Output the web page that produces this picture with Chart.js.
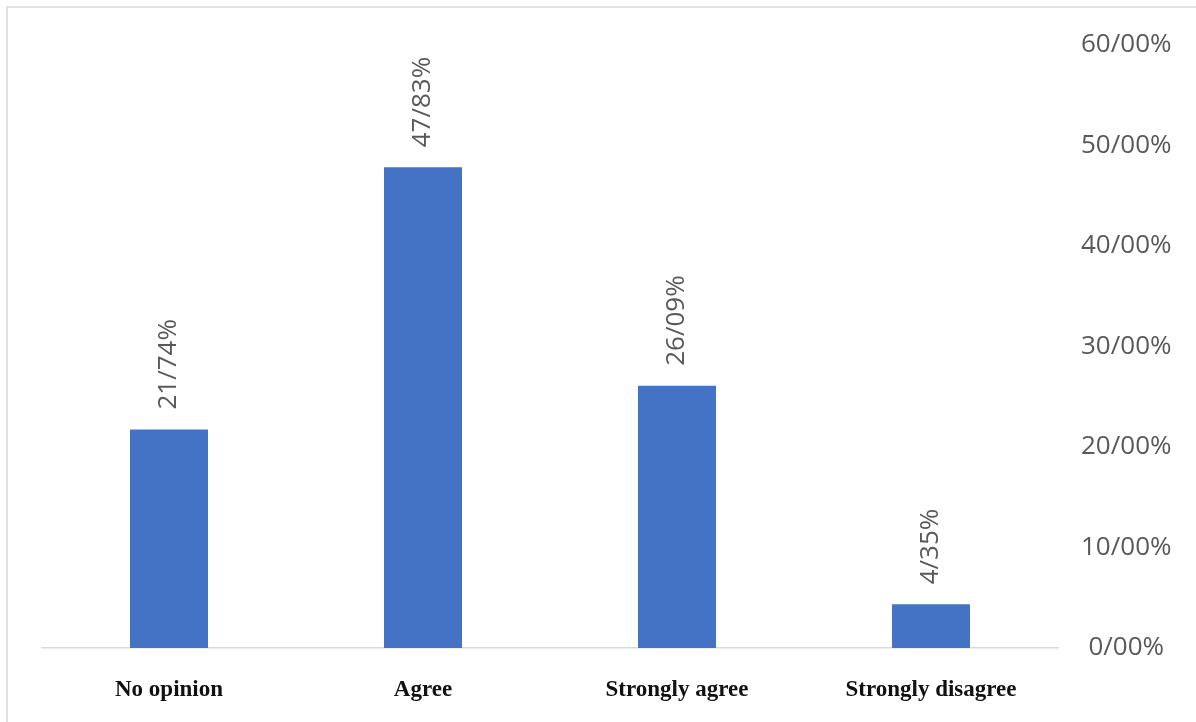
<!DOCTYPE html>
<html>
<head>
<meta charset="utf-8">
<title>Survey responses</title>
<script src="https://cdn.jsdelivr.net/npm/chart.js@4"></script>
<style>
  html, body { margin: 0; padding: 0; background: #fff; }
  #wrap { position: relative; width: 1196px; height: 722px; overflow: hidden; }
  #frame {
    position: absolute; left: 6px; top: 6px; width: 1300px; height: 800px;
    border-top: 2px solid #e2e2e2; border-left: 2px solid #e2e2e2;
    pointer-events: none;
  }
</style>
</head>
<body>
<div id="wrap">
  <canvas id="chart" width="1196" height="722"></canvas>
  <div id="frame"></div>
</div>
<script>
// Datos del gráfico
const categories = ['No opinion', 'Agree', 'Strongly agree', 'Strongly disagree'];
const percentages = [21.74, 47.83, 26.09, 4.35];
const yTicks = [0, 10, 20, 30, 40, 50, 60];

// Formato con barra como separador decimal: 21.74 -> "21/74%"
function fmt(v) {
    return v.toFixed(2).replace('.', '/') + '%';
}

// Etiquetas verticales encima de cada barra
const barLabels = {
    id: 'barLabels',
    afterDatasetsDraw(chart) {
        const ctx = chart.ctx;
        const meta = chart.getDatasetMeta(0);
        ctx.save();
        ctx.font = '26px "Open Sans"';
        ctx.fillStyle = '#595959';
        ctx.textAlign = 'left';
        ctx.textBaseline = 'middle';
        meta.data.forEach((bar, i) => {
            ctx.save();
            ctx.translate(bar.x, bar.y - 20);
            ctx.rotate(-Math.PI / 2);
            ctx.fillText(fmt(percentages[i]), 0, 0);
            ctx.restore();
        });
        ctx.restore();
    }
};

new Chart(document.getElementById('chart'), {
    type: 'bar',
    data: {
        labels: categories,
        datasets: [{
            data: percentages,
            backgroundColor: '#4472C4',
            categoryPercentage: 1,
            barPercentage: 0.307
        }]
    },
    options: {
        responsive: false,
        animation: false,
        layout: { padding: { left: 42, top: 45, right: 0, bottom: 0 } },
        plugins: {
            legend: { display: false },
            tooltip: { enabled: false }
        },
        scales: {
            x: {
                grid: { display: false, drawTicks: false },
                border: { display: true, color: '#d9d9d9', width: 1.5 },
                ticks: {
                    padding: 28,
                    color: '#111',
                    font: { family: '"Liberation Serif"', size: 23, weight: 'bold' }
                },
                afterFit(scale) { scale.height = 74; }
            },
            y: {
                position: 'right',
                min: 0,
                max: 60,
                grid: { display: false, drawTicks: false },
                border: { display: false },
                afterBuildTicks(scale) {
                    scale.ticks = yTicks.map(v => ({ value: v }));
                },
                ticks: {
                    crossAlign: 'center',
                    padding: 23,
                    color: '#595959',
                    font: { family: '"Open Sans"', size: 26 },
                    callback: v => fmt(v)
                },
                afterFit(scale) { scale.width = 138; }
            }
        }
    },
    plugins: [barLabels]
});
</script>
</body>
</html>
